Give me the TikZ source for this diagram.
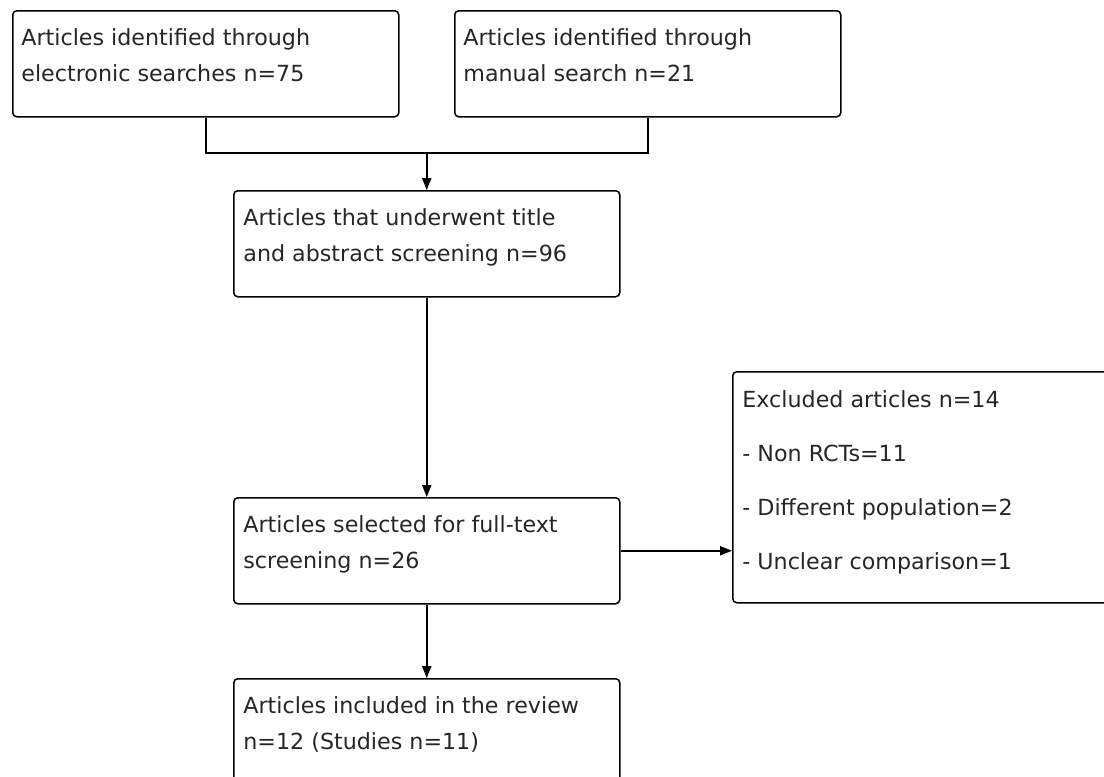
\documentclass[tikz,border=0pt]{standalone}
\usepackage{fontspec}
\setmainfont{DejaVu Sans}
\usetikzlibrary{arrows.meta,calc}
\begin{document}
\begin{tikzpicture}[x=0.5pt,y=-0.5pt,
  box/.style={draw=black, line width=0.75pt, rounded corners=2pt, inner sep=0pt, anchor=north west, minimum width=193pt, minimum height=53pt},
  txt/.style={anchor=north west, inner sep=0pt, align=left, text=black!85, font=\fontsize{11.1}{18}\selectfont},
  conn/.style={draw=black, line width=0.75pt},
  arr/.style={conn, -{Triangle[length=6pt,width=4.6pt]}}]
\useasboundingbox (0,0) rectangle (1104,777);
\clip (0,0) rectangle (1104,777);
\fill[white] (0,0) rectangle (1104,777);
% boxes
\node[box] (A) at (12,10) {};
\node[box] (A2) at (454,10) {};
\node[box] (B) at (233,190) {};
\node[box] (C) at (233,497) {};
\node[box, minimum width=200pt, minimum height=115.5pt] (E) at (732,371) {};
\node[box] (D) at (233,678) {};
% texts
\node[txt] (tA) at ($(A.north west)+(9,18)$) {Articles identified through\\electronic searches n=75};
\node[txt] (tA2) at ($(A2.north west)+(9,18)$) {Articles identified through\\manual search n=21};
\node[txt] (tB) at ($(B.north west)+(10,18)$) {Articles that underwent title\\and abstract screening n=96};
\node[txt] (tC) at ($(C.north west)+(10,18)$) {Articles selected for full-text\\screening n=26};
\node[txt, font=\fontsize{11.1}{27}\selectfont] (tE) at ($(E.north west)+(10,19)$) {Excluded articles n=14\\- Non RCTs=11\\- Different population=2\\- Unclear comparison=1};
\node[txt] (tD) at ($(D.north west)+(10,18)$) {Articles included in the review\\n=12 (Studies n=11)};
% connectors
\coordinate (J) at (B.north |- 0,153);
\draw[conn] (A.south) |- (J);
\draw[conn] (A2.south) |- (J);
\draw[arr] (J) -- (B.north);
\draw[arr] (B.south) -- (C.north);
\draw[arr] (C.east) -- (C.east -| E.west);
\draw[arr] (C.south) -- (D.north);
\end{tikzpicture}
\end{document}
